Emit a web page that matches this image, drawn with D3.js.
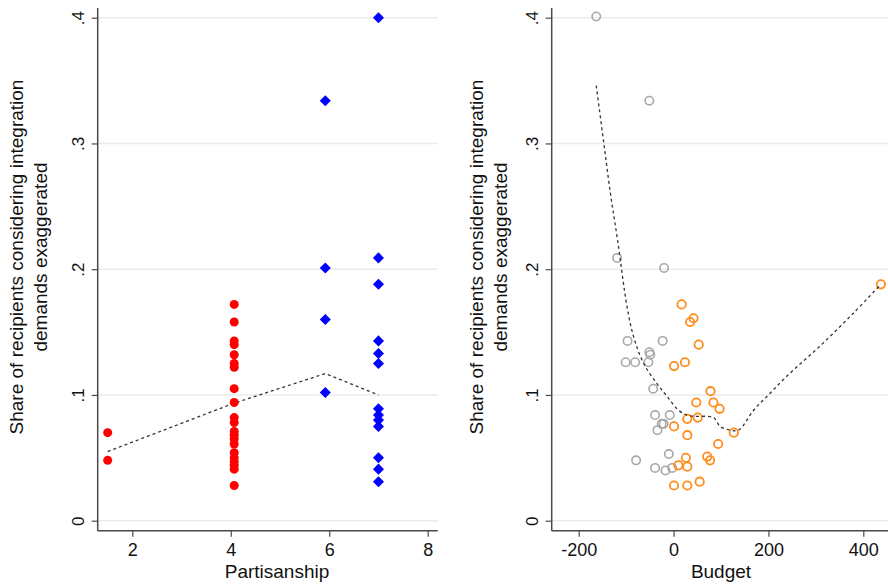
<!DOCTYPE html>
<html>
<head>
<meta charset="utf-8">
<script src="https://cdn.jsdelivr.net/npm/d3@7"></script>
<style>
  body { margin: 0; background: #fff; }
  svg { display: block; font-family: Arial, "Liberation Sans", sans-serif; }
</style>
</head>
<body>
<div id="chart"></div>
<script>
//
// Data
//
const yTicks = [0, 0.1, 0.2, 0.3, 0.4]
const partisanTicks = [2, 4, 6, 8]
const budgetTicks = [-200, 0, 200, 400]

// left panel: partisanship vs share
const redX = [1.5, 1.5, 4.07, 4.07, 4.07, 4.07, 4.07, 4.07, 4.07, 4.07, 4.07, 4.07, 4.07, 4.07, 4.07, 4.07, 4.07, 4.07, 4.07, 4.07, 4.07, 4.07, 4.07]
const redY = [0.070, 0.048, 0.172, 0.158, 0.143, 0.140, 0.132, 0.125, 0.122, 0.105, 0.094, 0.082, 0.078, 0.071, 0.068, 0.065, 0.061, 0.054, 0.050, 0.047, 0.044, 0.041, 0.028]
const blueX = [5.92, 5.92, 5.92, 5.92, 7, 7, 7, 7, 7, 7, 7, 7, 7, 7, 7, 7, 7]
const blueY = [0.334, 0.201, 0.160, 0.102, 0.400, 0.209, 0.188, 0.143, 0.133, 0.125, 0.089, 0.084, 0.080, 0.075, 0.050, 0.041, 0.031]
const meanX = [1.5, 4.07, 5.92, 7]
const meanY = [0.055, 0.0935, 0.117, 0.100]

// right panel: budget vs share
const grayBudget = [-163, -51, -119, -20, -97, -23, -51, -49, -101, -81, -53, -43, -39, -8, -25, -21, -34, -10, -79, -39, -17, -3]
const grayShare = [0.401, 0.334, 0.209, 0.201, 0.143, 0.143, 0.134, 0.132, 0.126, 0.126, 0.126, 0.105, 0.084, 0.084, 0.077, 0.077, 0.072, 0.053, 0.048, 0.042, 0.040, 0.042]
const orangeBudget = [437, 17, 42, 35, 53, 1, 24, 78, 48, 84, 97, 51, 29, 1, 127, 29, 94, 26, 71, 77, 10, 29, 1, 29, 55]
const orangeShare = [0.188, 0.172, 0.161, 0.158, 0.140, 0.123, 0.126, 0.103, 0.094, 0.094, 0.089, 0.082, 0.081, 0.075, 0.070, 0.068, 0.061, 0.050, 0.051, 0.048, 0.044, 0.043, 0.028, 0.028, 0.031]
const smoothBudget = [-163, -147, -133, -118, -98, -84, -63, -35, -14, 10, 28, 42, 84, 98, 119, 137, 169, 200, 239, 309, 379, 437]
const smoothShare = [0.346, 0.300, 0.260, 0.223, 0.170, 0.146, 0.125, 0.109, 0.099, 0.088, 0.084, 0.083, 0.082, 0.075, 0.072, 0.072, 0.088, 0.100, 0.115, 0.139, 0.165, 0.188]

const yLabel = ['Share of recipients considering integration', 'demands exaggerated']

const width = 888
const height = 588
const gridColour = '#ebebeb'
const axisColour = '#4a4a4a'

const svg = d3.select('#chart').append('svg')
  .attr('width', width)
  .attr('height', height)

const y = d3.scaleLinear().domain([0, 0.4]).range([520.7, 17.7])

const xLeft = d3.scaleLinear().domain([2, 8]).range([132.3, 427.7])
const xRight = d3.scaleLinear().domain([-200, 400]).range([578.7, 863.3])

function drawFrame (x, x0, x1, xTicks, xTitle, titleX, labelX) {
  const g = svg.append('g')
  // gridlines
  g.selectAll('line.grid').data(yTicks).enter().append('line')
    .attr('x1', x0).attr('x2', x1)
    .attr('y1', d => y(d)).attr('y2', d => y(d))
    .attr('stroke', gridColour).attr('stroke-width', 1.5)

  // y axis
  const yAxis = g.append('g')
    .attr('transform', 'translate(' + x0 + ',0)')
    .call(d3.axisLeft(y).tickValues(yTicks).tickSize(6).tickSizeOuter(0)
      .tickFormat(d => d === 0 ? '0' : d3.format('.1f')(d).replace(/^0/, '')))
  yAxis.select('.domain').attr('d', 'M0,' + 530.7 + 'V' + 8).attr('stroke', axisColour).attr('stroke-width', 1.5)
  yAxis.selectAll('.tick line').attr('stroke', axisColour).attr('stroke-width', 1.2)
  yAxis.selectAll('.tick text')
    .attr('x', null).attr('dy', null)
    .attr('transform', 'translate(-14,0) rotate(-90)')
    .attr('text-anchor', 'middle')
    .attr('fill', '#111')
    .style('font-size', '17px')

  // x axis
  const xAxis = g.append('g')
    .attr('transform', 'translate(0,530.7)')
    .call(d3.axisBottom(x).tickValues(xTicks).tickSize(6).tickSizeOuter(0)
      .tickFormat(d => String(d)))
  xAxis.select('.domain').attr('d', 'M' + x0 + ',0H' + x1).attr('stroke', axisColour).attr('stroke-width', 1.5)
  xAxis.selectAll('.tick line').attr('stroke', axisColour).attr('stroke-width', 1.2)
  xAxis.selectAll('.tick text')
    .attr('y', 25).attr('dy', null)
    .attr('fill', '#111')
    .style('font-size', '18px')

  g.append('text')
    .attr('x', titleX).attr('y', 578)
    .attr('text-anchor', 'middle')
    .style('font-size', '19px')
    .attr('fill', '#111')
    .text(xTitle)

  g.selectAll('text.ylab').data(yLabel).enter().append('text')
    .attr('transform', (d, i) => 'translate(' + (labelX + i * 24) + ',257) rotate(-90)')
    .attr('text-anchor', 'middle')
    .style('font-size', '19px')
    .attr('fill', '#111')
    .text(d => d)
}

drawFrame(xLeft, 97.7, 437.7, partisanTicks, 'Partisanship', 277, 23)
drawFrame(xRight, 551.7, 888, budgetTicks, 'Budget', 721, 483)

const line = x => d3.line().x(d => x(d[0])).y(d => y(d[1]))

// left panel marks
svg.append('path')
  .datum(d3.zip(meanX, meanY))
  .attr('d', line(xLeft))
  .attr('fill', 'none').attr('stroke', '#333')
  .attr('stroke-width', 1.3).attr('stroke-dasharray', '3,3')

svg.append('g').selectAll('circle')
  .data(d3.zip(redX, redY))
  .enter().append('circle')
  .attr('cx', d => xLeft(d[0])).attr('cy', d => y(d[1]))
  .attr('r', 4.5)
  .attr('fill', '#ff0000')

const diamond = d3.symbol().type(d3.symbolDiamond2).size(78)
svg.append('g').selectAll('path')
  .data(d3.zip(blueX, blueY))
  .enter().append('path')
  .attr('d', diamond)
  .attr('transform', d => 'translate(' + xLeft(d[0]) + ',' + y(d[1]) + ')')
  .attr('fill', '#0000ff')

// right panel marks
svg.append('g').selectAll('circle')
  .data(d3.zip(grayBudget, grayShare))
  .enter().append('circle')
  .attr('cx', d => xRight(d[0])).attr('cy', d => y(d[1]))
  .attr('r', 4.2)
  .attr('fill', 'none').attr('stroke', '#a8a8a8').attr('stroke-width', 1.6)

svg.append('g').selectAll('circle')
  .data(d3.zip(orangeBudget, orangeShare))
  .enter().append('circle')
  .attr('cx', d => xRight(d[0])).attr('cy', d => y(d[1]))
  .attr('r', 4.2)
  .attr('fill', 'none').attr('stroke', '#ff8c1a').attr('stroke-width', 1.8)

svg.append('path')
  .datum(d3.zip(smoothBudget, smoothShare))
  .attr('d', line(xRight).curve(d3.curveCatmullRom.alpha(0.5)))
  .attr('fill', 'none').attr('stroke', '#333')
  .attr('stroke-width', 1.3).attr('stroke-dasharray', '3,3')
</script>
</body>
</html>
